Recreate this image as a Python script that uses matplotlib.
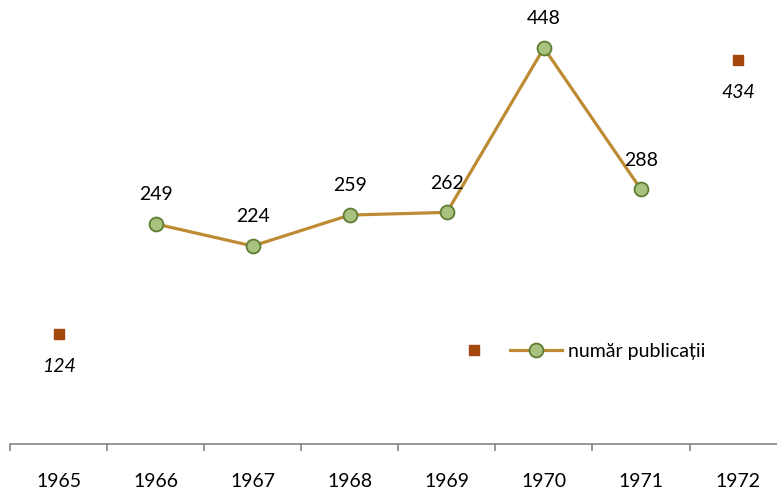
import matplotlib
matplotlib.use('Agg')
import matplotlib.pyplot as plt
import numpy as np

plt.rcParams['font.family'] = ['Lato', 'DejaVu Sans']

years = ['1965', '1966', '1967', '1968', '1969', '1970', '1971', '1972']
line_years = ['1966', '1967', '1968', '1969', '1970', '1971']
line_values = [249, 224, 259, 262, 448, 288]
edge_years = ['1965', '1972']
edge_values = [124, 434]
series_name = 'număr publicații'

pos = {y: i for i, y in enumerate(years)}
lx = [pos[y] for y in line_years]
ex = [pos[y] for y in edge_years]

fig = plt.figure(figsize=(7.77, 4.92), dpi=100)
ax = fig.add_axes([10 / 777, 1 - 444 / 492, 776.6 / 777, 442 / 492])

sq, = ax.plot(ex, edge_values, linestyle='none', marker='s', markersize=7.5,
              color='#A3470C', markeredgecolor='#A3470C')
ln, = ax.plot(lx, line_values, color='#BD8B33', linewidth=2.3, marker='o',
              markersize=10, markerfacecolor='#A9C27E', markeredgecolor='#5E7D34',
              markeredgewidth=1.3)

for x, v in zip(lx, line_values):
    ax.annotate(str(v), (x, v), xytext=(0, 21), textcoords='offset points',
                ha='center', va='center', fontsize=14)
for x, v in zip(ex, edge_values):
    ax.annotate(str(v), (x, v), xytext=(0, -23), textcoords='offset points',
                ha='center', va='center', fontsize=14, style='italic')

ax.set_xlim(-0.5, 7.5)
ax.set_ylim(0, 500)
ax.set_yticks([])
ax.set_xticks(range(len(years)))
ax.set_xticklabels(years, fontsize=14)
ax.set_xticks(np.arange(-0.5, 8, 1), minor=True)
ax.tick_params(axis='x', which='major', length=0, pad=21)
ax.tick_params(axis='x', which='minor', length=5, width=1.2, color='#868686')
for s in ['top', 'left', 'right']:
    ax.spines[s].set_visible(False)
ax.spines['bottom'].set_color('#868686')
ax.spines['bottom'].set_linewidth(1.2)

ax.legend([sq, ln], ['', series_name], ncol=2, frameon=False, fontsize=14,
          loc='center left', bbox_to_anchor=((430 - 10) / 776.6, (444 - 351) / 442),
          handlelength=2.7, columnspacing=0.2, handletextpad=0.3)

plt.savefig('out.png', dpi=100)
